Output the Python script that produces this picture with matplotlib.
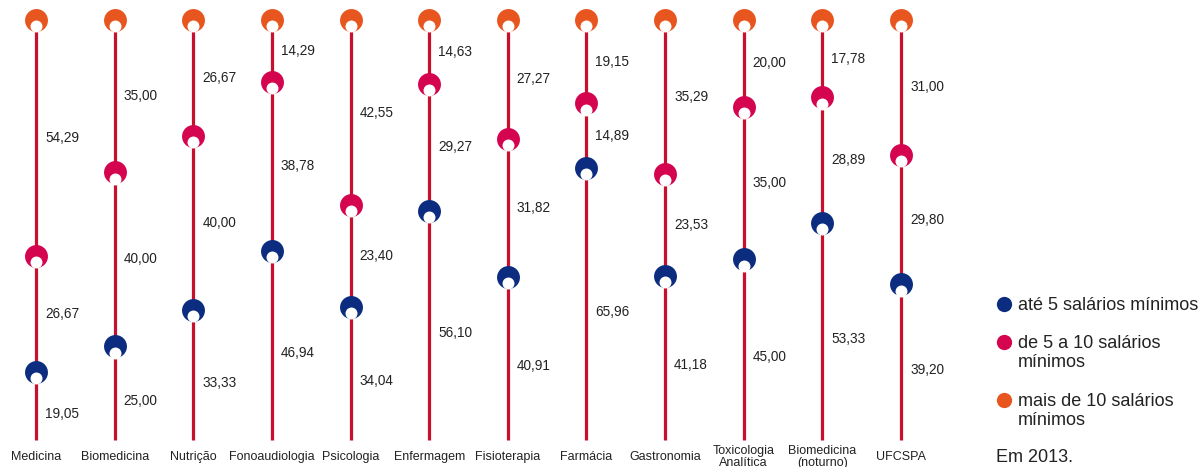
import matplotlib
matplotlib.use("Agg")
import matplotlib.pyplot as plt
import matplotlib.transforms as mtransforms
import numpy as np

categories = ["Medicina", "Biomedicina", "Nutrição", "Fonoaudiologia", "Psicologia",
              "Enfermagem", "Fisioterapia", "Farmácia", "Gastronomia",
              "Toxicologia\nAnalítica", "Biomedicina\n(noturno)", "UFCSPA"]
ate5 = [19.05, 25.00, 33.33, 46.94, 34.04, 56.10, 40.91, 65.96, 41.18, 45.00, 53.33, 39.20]
de5a10 = [26.67, 40.00, 40.00, 38.78, 23.40, 29.27, 31.82, 14.89, 23.53, 35.00, 28.89, 29.80]
mais10 = [54.29, 35.00, 26.67, 14.29, 42.55, 14.63, 27.27, 19.15, 35.29, 20.00, 17.78, 31.00]
series_names = ["até 5 salários mínimos", "de 5 a 10 salários\nmínimos",
                "mais de 10 salários\nmínimos"]
note = "Em 2013."

C_BLUE = "#0c2c80"
C_PINK = "#d4044f"
C_ORANGE = "#e8561f"
C_LINE = "#c8102e"
C_TEXT = "#222222"
FONT = "Liberation Sans"

W, H = 1203, 467
fig = plt.figure(figsize=(W / 100, H / 100), dpi=100)

def fx(px):
    return px / W

def fy(py):
    return 1 - py / H

# axes: x category 0 at px 36, 11 at px 901; y 0 at py 455, 100 at py 20
ax = fig.add_axes([fx(36), fy(455), (901 - 36) / W, (455 - 20) / H])
ax.set_xlim(0, len(categories) - 1)
ax.set_ylim(0, 100)
ax.axis("off")

x = np.arange(len(categories))
a = np.array(ate5)
b = np.array(de5a10)
c = np.array(mais10)
y_blue = a
y_pink = a + b
y_orange = a + b + c

LINE_BOTTOM = 3.45
for xi, top in zip(x, y_orange):
    ax.plot([xi, xi], [LINE_BOTTOM, top], color=C_LINE, lw=2.3, zorder=1,
            solid_capstyle="butt", clip_on=False)

white_tr = mtransforms.offset_copy(ax.transData, fig=fig, x=0, y=-6.3, units="dots")
for yv, col in ((y_blue, C_BLUE), (y_pink, C_PINK), (y_orange, C_ORANGE)):
    ax.plot(x, yv, "o", ms=16.5, color=col, mec="none", zorder=3, clip_on=False)
    ax.plot(x, yv, "o", ms=8.6, color="white", mec="none", zorder=4,
            clip_on=False, transform=white_tr)

# value labels at segment midpoints
for i in x:
    segs = [(0, y_blue[i], ate5[i]), (y_blue[i], y_pink[i], de5a10[i]),
            (y_pink[i], y_orange[i], mais10[i])]
    for lo, hi, v in segs:
        ax.annotate(f"{v:.2f}".replace(".", ","), xy=(i, (lo + hi) / 2),
                    xytext=(9, 0), textcoords="offset pixels",
                    ha="left", va="center", fontsize=9.8, family=FONT,
                    color=C_TEXT, annotation_clip=False)

# category labels
for i, name in enumerate(categories):
    ax.annotate(name, xy=(i, 0), xytext=(0, -2), textcoords="offset pixels",
                ha="center", va="center", fontsize=9, family=FONT,
                color=C_TEXT, linespacing=0.95, annotation_clip=False)

# legend
leg_y = [304, 342, 400]
for yy, col, name in zip(leg_y, (C_BLUE, C_PINK, C_ORANGE), series_names):
    fig.add_artist(plt.Line2D([fx(1004)], [fy(yy)], marker="o", ms=11,
                              color=col, mec="none", transform=fig.transFigure))
    for k, line in enumerate(name.split("\n")):
        fig.text(fx(1018), fy(yy + 1 + 19.5 * k), line, ha="left", va="center",
                 fontsize=13, family=FONT, color=C_TEXT)
fig.text(fx(996), fy(458), note, ha="left", va="center", fontsize=13,
         family=FONT, color=C_TEXT)

fig.savefig("out.png", dpi=100)
